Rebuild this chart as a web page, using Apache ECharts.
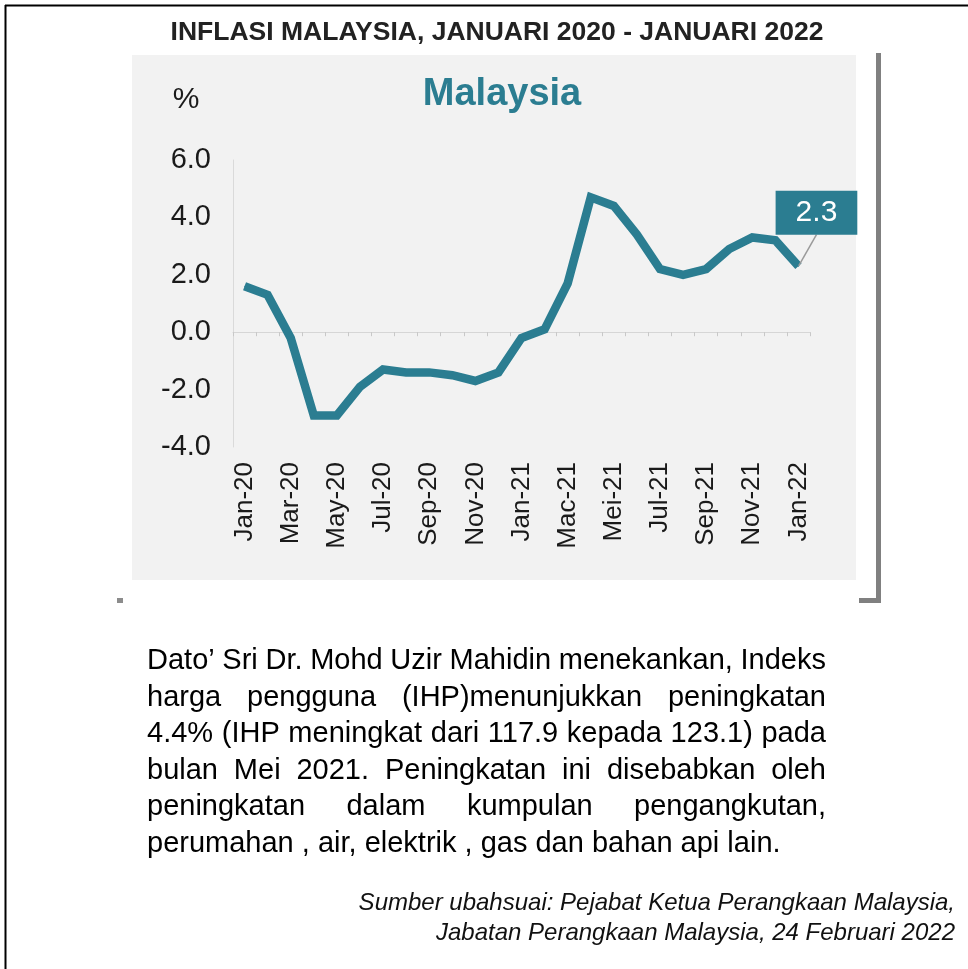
<!DOCTYPE html>
<html>
<head>
<meta charset="utf-8">
<script src="https://cdn.jsdelivr.net/npm/echarts@6/dist/echarts.min.js"></script>
<style>
  html, body { margin: 0; padding: 0; background: #fff; }
  #chart { width: 968px; height: 969px; }
</style>
</head>
<body>
<div id="chart"></div>
<script>
// data
var months = ['Jan-20', 'Feb-20', 'Mar-20', 'Apr-20', 'May-20', 'Jun-20', 'Jul-20', 'Aug-20', 'Sep-20', 'Oct-20', 'Nov-20', 'Dec-20',
  'Jan-21', 'Feb-21', 'Mac-21', 'Apr-21', 'Mei-21', 'Jun-21', 'Jul-21', 'Ogo-21', 'Sep-21', 'Okt-21', 'Nov-21', 'Dis-21', 'Jan-22'];
var inflation = [1.6, 1.3, -0.2, -2.9, -2.9, -1.9, -1.3, -1.4, -1.4, -1.5, -1.7, -1.4,
  -0.2, 0.1, 1.7, 4.7, 4.4, 3.4, 2.2, 2.0, 2.2, 2.9, 3.3, 3.2, 2.3];
var yMin = -4, yMax = 6, yStep = 2;

var title = 'INFLASI MALAYSIA, JANUARI 2020 - JANUARI 2022';
var paragraph = [
  'Dato’ Sri Dr. Mohd Uzir Mahidin menekankan, Indeks',
  'harga pengguna (IHP)menunjukkan peningkatan',
  '4.4% (IHP meningkat dari 117.9 kepada 123.1) pada',
  'bulan Mei 2021. Peningkatan ini disebabkan oleh',
  'peningkatan dalam kumpulan pengangkutan,',
  'perumahan , air, elektrik , gas dan bahan api lain.'
];
var source = [
  'Sumber ubahsuai: Pejabat Ketua Perangkaan Malaysia,',
  'Jabatan Perangkaan Malaysia, 24 Februari 2022'
];

var teal = '#2b7d91';
var FONT = '"Liberation Sans", Arial, sans-serif';

function txt(text, x, y, font, fill, align) {
  return {
    type: 'text', x: x, y: y, silent: true,
    style: {
      text: text, font: font, fill: fill,
      textAlign: align, align: align,
      textVerticalAlign: 'middle', verticalAlign: 'middle'
    }
  };
}

// justified paragraph, word by word
var ctx = document.createElement('canvas').getContext('2d');
var pFont = '29px ' + FONT;
ctx.font = pFont;
var pLeft = 147, pRight = 826, pTop = 661, pLine = 36.6;
var paraEls = [];
paragraph.forEach(function (line, i) {
  var y = pTop + i * pLine;
  if (i === paragraph.length - 1) {
    paraEls.push(txt(line, pLeft, y, pFont, '#000', 'left'));
    return;
  }
  var words = line.split(' ');
  var w = words.map(function (s) { return ctx.measureText(s).width; });
  var total = w.reduce(function (a, b) { return a + b; }, 0);
  var gap = (pRight - pLeft - total) / (words.length - 1);
  var x = pLeft;
  words.forEach(function (s, k) {
    paraEls.push(txt(s, x, y, pFont, '#000', 'left'));
    x += w[k] + gap;
  });
});

var chart = echarts.init(document.getElementById('chart'));

chart.setOption({
  backgroundColor: '#fff',
  animation: false,
  grid: { left: 233, right: 158, top: 160, bottom: 522, containLabel: false },
  xAxis: [{
    type: 'category',
    data: months,
    boundaryGap: true,
    position: 'bottom',
    axisLine: { show: false, onZero: false },
    axisTick: { show: false },
    axisLabel: {
      interval: 1, rotate: 90, margin: 15,
      fontSize: 26, fontFamily: FONT, color: '#1a1a1a'
    },
    splitLine: { show: false }
  }, {
    type: 'category',
    data: months,
    boundaryGap: true,
    position: 'bottom',
    axisLine: { show: true, onZero: true, lineStyle: { color: '#d6d6d6', width: 1 } },
    axisTick: { show: true, interval: 0, length: 4, lineStyle: { color: '#c8c8c8' } },
    axisLabel: { show: false },
    splitLine: { show: false }
  }],
  yAxis: {
    type: 'value',
    min: yMin, max: yMax, interval: yStep,
    axisLine: { show: true, lineStyle: { color: '#dadada' } },
    axisTick: { show: false },
    splitLine: { show: false },
    axisLabel: {
      margin: 22, fontSize: 29, fontFamily: FONT, color: '#1a1a1a',
      formatter: function (v) { return v.toFixed(1); }
    }
  },
  series: [{
    type: 'line',
    xAxisIndex: 0,
    data: inflation.map(function (v, i) {
      if (i !== inflation.length - 1) return v;
      return {
        value: v,
        label: {
          show: true, position: 'top', distance: 5,
          formatter: function (p) { return p.value.toFixed(1); },
          backgroundColor: teal, color: '#fff',
          fontSize: 30, fontFamily: FONT, lineHeight: 30,
          padding: [7, 20, 7, 20]
        },
        labelLine: { show: true, lineStyle: { color: '#9a9a9a', width: 1.5 } }
      };
    }),
    symbol: 'circle',
    symbolSize: 1,
    showSymbol: true,
    itemStyle: { color: teal },
    lineStyle: { color: teal, width: 8.5, join: 'miter' },
    labelLayout: { dx: 18, dy: -26 },
    z: 3
  }],
  graphic: [
    // outer frame
    { type: 'rect', z: -100, silent: true, shape: { x: 0, y: 0, width: 968, height: 969 }, style: { fill: '#fff' } },
    { type: 'line', silent: true, shape: { x1: 5, y1: 5.5, x2: 968, y2: 5.5 }, style: { stroke: '#000', lineWidth: 2 } },
    { type: 'line', silent: true, shape: { x1: 5.5, y1: 5, x2: 5.5, y2: 969 }, style: { stroke: '#000', lineWidth: 2 } },
    txt(title, 497, 33, 'bold 26.5px ' + FONT, '#222', 'center'),
    // picture panel
    { type: 'rect', z: -90, silent: true, shape: { x: 132, y: 55, width: 724, height: 525 }, style: { fill: '#f2f2f2' } },
    { type: 'rect', silent: true, shape: { x: 876, y: 53, width: 5, height: 550 }, style: { fill: '#808080' } },
    { type: 'rect', silent: true, shape: { x: 859, y: 598, width: 22, height: 5 }, style: { fill: '#808080' } },
    { type: 'rect', silent: true, shape: { x: 117, y: 598, width: 6, height: 5 }, style: { fill: '#8c8c8c' } },
    txt('%', 186, 100, '30px ' + FONT, '#1a1a1a', 'center'),
    txt('Malaysia', 502, 95, 'bold 38px ' + FONT, teal, 'center'),
    // italic source
    txt(source[0], 955, 903, 'italic 24px ' + FONT, '#111', 'right'),
    txt(source[1], 955, 933, 'italic 24px ' + FONT, '#111', 'right')
  ].concat(paraEls)
});

window.addEventListener('resize', function () {
  chart.resize();
});
</script>
</body>
</html>
